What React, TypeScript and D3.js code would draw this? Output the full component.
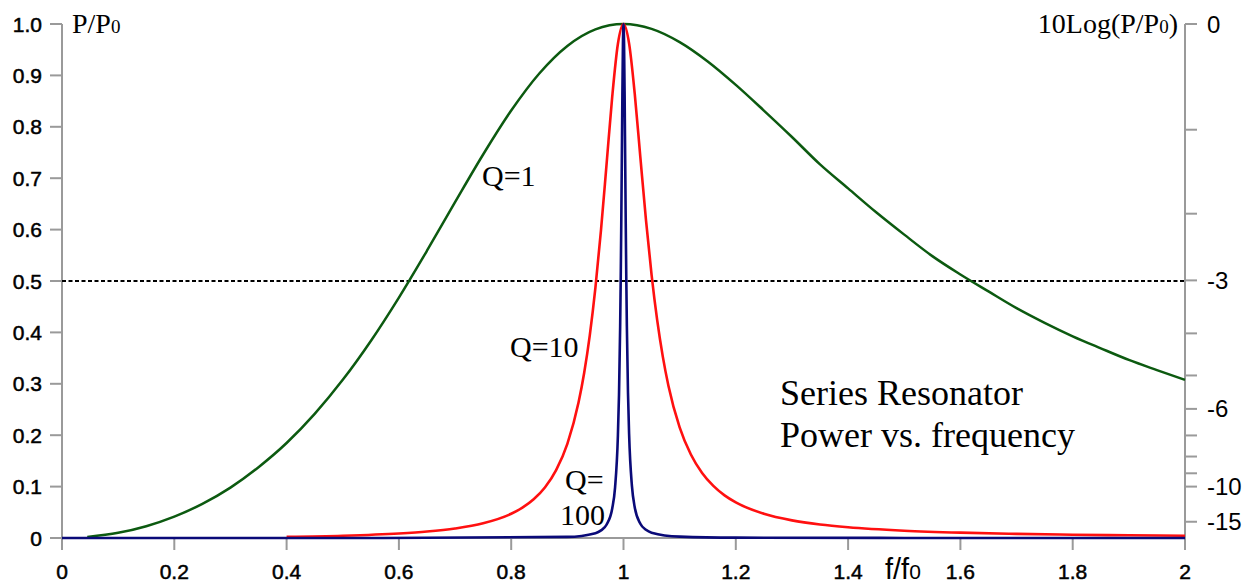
import React from "react";
import * as d3 from "d3";

// f/f0 values and P/P0 readings for each curve
const q1F = [0.045, 0.1, 0.15, 0.2, 0.25, 0.3, 0.35, 0.4, 0.45, 0.5, 0.55, 0.6, 0.65, 0.7, 0.75, 0.8, 0.85, 0.9, 0.95, 1.0, 1.05, 1.1, 1.15, 1.2, 1.25, 1.3, 1.35, 1.4, 1.45, 1.5, 1.55, 1.6, 1.65, 1.7, 1.75, 1.8, 1.85, 1.9, 1.95, 2.0];
const q1P = [0.002, 0.0101, 0.023, 0.0416, 0.0664, 0.098, 0.1378, 0.1848, 0.2415, 0.3077, 0.3834, 0.4678, 0.5589, 0.6533, 0.7461, 0.8316, 0.9037, 0.9573, 0.9896, 1.0, 0.9906, 0.9648, 0.9271, 0.8815, 0.8316, 0.7802, 0.7269, 0.6802, 0.6337, 0.5902, 0.5484, 0.5127, 0.4797, 0.4472, 0.4186, 0.3924, 0.369, 0.3464, 0.3267, 0.3077];

const q10F = [0.4, 0.5, 0.6, 0.65, 0.7, 0.75, 0.8, 0.82, 0.84, 0.86, 0.88, 0.9, 0.92, 0.93, 0.94, 0.95, 0.96, 0.97, 0.98, 0.99, 1.0, 1.01, 1.02, 1.03, 1.04, 1.05, 1.06, 1.07, 1.08, 1.1, 1.12, 1.14, 1.16, 1.18, 1.2, 1.25, 1.3, 1.35, 1.4, 1.5, 1.6, 1.7, 1.8, 1.9, 2.0];
const q10P = [0.0023, 0.0044, 0.0087, 0.0125, 0.0185, 0.0286, 0.0471, 0.059, 0.0753, 0.0983, 0.1321, 0.1833, 0.264, 0.3215, 0.3947, 0.487, 0.5999, 0.7292, 0.8596, 0.9612, 1.0, 0.9619, 0.8644, 0.741, 0.619, 0.5121, 0.4238, 0.3529, 0.2964, 0.2153, 0.1624, 0.1265, 0.1013, 0.0829, 0.0692, 0.0471, 0.0343, 0.0262, 0.0208, 0.0142, 0.0104, 0.008, 0.0064, 0.0053, 0.0044];

const q100F = [0.0, 0.5, 0.9, 0.95, 0.96, 0.97, 0.98, 0.985, 0.99, 0.992, 0.994, 0.995, 0.996, 0.997, 0.998, 0.999, 1.0, 1.001, 1.002, 1.003, 1.004, 1.005, 1.006, 1.008, 1.01, 1.015, 1.02, 1.03, 1.04, 1.05, 1.1, 1.2, 1.5, 2.0];
const q100P = [0.0, 0.00004, 0.0022, 0.0094, 0.0148, 0.0262, 0.0577, 0.0986, 0.1984, 0.2793, 0.4084, 0.4988, 0.6088, 0.7347, 0.8618, 0.9615, 1.0, 0.9615, 0.8623, 0.7359, 0.6107, 0.5013, 0.4113, 0.2825, 0.2016, 0.1013, 0.0599, 0.0278, 0.016, 0.0104, 0.0027, 0.0007, 0.00014, 0.00004];

const xTicks = [0, 0.2, 0.4, 0.6, 0.8, 1, 1.2, 1.4, 1.6, 1.8, 2];
const xTickLabels = ["0", "0.2", "0.4", "0.6", "0.8", "1", "1.2", "1.4", "1.6", "1.8", "2"];
const yTicks = [0, 0.1, 0.2, 0.3, 0.4, 0.5, 0.6, 0.7, 0.8, 0.9, 1.0];
const yTickLabels = ["0", "0.1", "0.2", "0.3", "0.4", "0.5", "0.6", "0.7", "0.8", "0.9", "1.0"];
const dbTicks = [0, -1, -2, -3, -4, -5, -6, -7, -8, -9, -10, -15];
const dbLabels = ["0", "-3", "-6", "-10", "-15"];
const halfPower = 0.5;

const SANS = "'Liberation Sans', Arial, sans-serif";
const SERIF = "'Liberation Serif', 'Times New Roman', serif";

export default function App() {
  const W = 1254, H = 584;
  const x = d3.scaleLinear().domain([0, 2]).range([62, 1185]);
  const y = d3.scaleLinear().domain([0, 1]).range([538, 24]);
  const dbY = (db: number) => y(Math.pow(10, db / 10));
  const line = d3
    .line<[number, number]>()
    .x((d) => x(d[0]))
    .y((d) => y(d[1]))
    .curve(d3.curveMonotoneX);
  const zip = (a: number[], b: number[]) => a.map((v, i) => [v, b[i]] as [number, number]);
  const axisColor = "#9a9a9a";
  const x0 = x(0), x2 = x(2);
  const sansStyle = { fontFamily: SANS, fontSize: 21, fill: "#000", stroke: "#000", strokeWidth: 0.5 };
  const serifStyle = { fontFamily: SERIF, fill: "#000" };

  return (
    <svg width={W} height={H} style={{ position: "absolute", left: 0, top: 0, background: "#fff" }}>
      {/* axes */}
      <line x1={x0} x2={x0} y1={y(1)} y2={y(0)} stroke={axisColor} strokeWidth={2} />
      <line x1={x2} x2={x2} y1={y(1)} y2={y(0) + 12} stroke={axisColor} strokeWidth={2} />
      <line x1={x0} x2={x2} y1={y(0)} y2={y(0)} stroke={axisColor} strokeWidth={2} />
      {yTicks.map((t, i) => (
        <g key={"yt" + i}>
          <line x1={x0 - 12} x2={x0} y1={y(t)} y2={y(t)} stroke={axisColor} strokeWidth={2} />
          <text x={42} y={y(t) + 7.5} textAnchor="end" {...sansStyle}>
            {yTickLabels[i]}
          </text>
        </g>
      ))}
      {xTicks.map((t, i) => (
        <g key={"xt" + i}>
          <line x1={x(t)} x2={x(t)} y1={y(0)} y2={y(0) + 12} stroke={axisColor} strokeWidth={2} />
          <text x={x(t)} y={579} textAnchor="middle" {...sansStyle}>
            {xTickLabels[i]}
          </text>
        </g>
      ))}
      {dbTicks.map((t, i) => (
        <line key={"db" + i} x1={x2} x2={x2 + 12} y1={dbY(t)} y2={dbY(t)} stroke={axisColor} strokeWidth={2} />
      ))}
      {dbLabels.map((l, i) => (
        <text key={"dbl" + i} x={x2 + 22} y={dbY(+l) + 8.5} fontFamily={SANS} fontSize={24} fill="#000">
          {l}
        </text>
      ))}

      {/* half-power line */}
      <line x1={x0} x2={x2} y1={y(halfPower)} y2={y(halfPower)} stroke="#000" strokeWidth={2} strokeDasharray="4,2.5" />

      {/* curves */}
      <path d={line(zip(q1F, q1P)) || ""} fill="none" stroke="#0c5a10" strokeWidth={2.5} />
      <path d={line(zip(q10F, q10P)) || ""} fill="none" stroke="#ff1010" strokeWidth={2.6} />
      <path d={line(zip(q100F, q100P)) || ""} fill="none" stroke="#0a0a78" strokeWidth={2.6} />

      {/* axis titles */}
      <text x={72} y={33} fontSize={28} {...serifStyle}>
        P/P<tspan fontSize={19}>0</tspan>
      </text>
      <text x={1178} y={33} textAnchor="end" fontSize={28} {...serifStyle}>
        10Log(P/P<tspan fontSize={19}>0</tspan>)
      </text>
      <text x={885} y={579} fontFamily={SANS} fontSize={29} fill="#000">
        f/f<tspan fontSize={21}>0</tspan>
      </text>

      {/* annotations */}
      <text x={482} y={186} fontSize={30} {...serifStyle}>Q=1</text>
      <text x={510} y={357} fontSize={30} {...serifStyle}>Q=10</text>
      <text x={565} y={490} fontSize={30} {...serifStyle}>Q=</text>
      <text x={560} y={525} fontSize={30} {...serifStyle}>100</text>
      <text x={780} y={405} fontSize={36} {...serifStyle}>Series Resonator</text>
      <text x={780} y={447} fontSize={36} {...serifStyle}>Power vs. frequency</text>
    </svg>
  );
}
